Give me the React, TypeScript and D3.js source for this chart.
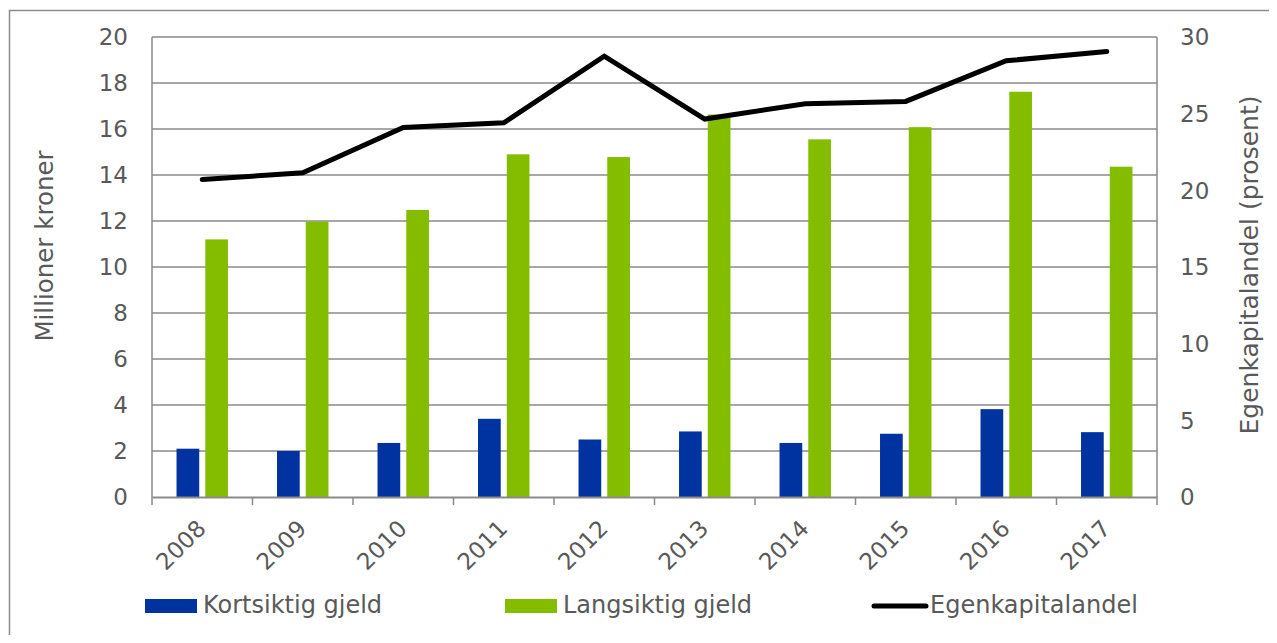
import React, { useEffect, useRef } from 'react';
import * as d3 from 'd3';

const years = ['2008', '2009', '2010', '2011', '2012', '2013', '2014', '2015', '2016', '2017'];
const kortsiktig = [2.1, 2.0, 2.35, 3.4, 2.5, 2.85, 2.35, 2.75, 3.82, 2.82];
const langsiktig = [11.2, 11.97, 12.48, 14.9, 14.78, 16.63, 15.55, 16.08, 17.62, 14.36];
const egenkapital = [20.7, 21.15, 24.1, 24.4, 28.75, 24.65, 25.65, 25.8, 28.45, 29.05];
const leftTicks = [0, 2, 4, 6, 8, 10, 12, 14, 16, 18, 20];
const rightTicks = [0, 5, 10, 15, 20, 25, 30];

const seriesNames = ['Kortsiktig gjeld', 'Langsiktig gjeld'];
const colors = ['#0033a0', '#84bc00'];

const W = 1277, H = 643;
const m = { left: 152, right: 1157, top: 37, bottom: 497 };
const font = 'DejaVu Sans, Verdana, sans-serif';
const textCol = '#595959';
const gridCol = '#8a8a8a';

const Chart = () => {
  const ref = useRef<SVGSVGElement>(null);

  useEffect(() => {
    const svg = d3.select(ref.current);
    svg.selectAll('*').remove();

    // outer frame, runs past the page on the right and bottom
    svg.append('rect')
      .attr('x', 9.5).attr('y', 10.5)
      .attr('width', W + 20).attr('height', H + 20)
      .attr('fill', 'none').attr('stroke', '#8c8c8c').attr('stroke-width', 1.5);

    const x0 = d3.scaleBand().domain(years).range([m.left, m.right]).padding(0);
    const bw = x0.bandwidth();
    const x1 = d3.scaleBand().domain(seriesNames).range([bw * 0.244, bw * 0.756]).paddingInner(0.21);
    const yL = d3.scaleLinear().domain([0, 20]).range([m.bottom, m.top]);
    const yR = d3.scaleLinear().domain([0, 30]).range([m.bottom, m.top]);

    // gridlines
    svg.append('g').selectAll('line').data(leftTicks.filter(t => t > 0)).enter()
      .append('line')
      .attr('x1', m.left).attr('x2', m.right)
      .attr('y1', d => yL(d)).attr('y2', d => yL(d))
      .attr('stroke', gridCol).attr('stroke-width', 1.5);

    // bars
    const data = [kortsiktig, langsiktig];
    data.forEach((vals, si) => {
      svg.append('g').selectAll('rect').data(vals).enter()
        .append('rect')
        .attr('x', (d, i) => (x0(years[i]) as number) + (x1(seriesNames[si]) as number))
        .attr('y', d => yL(d))
        .attr('width', x1.bandwidth())
        .attr('height', d => m.bottom - yL(d))
        .attr('fill', colors[si]);
    });

    // axis lines
    svg.append('line').attr('x1', m.left).attr('x2', m.left).attr('y1', m.top).attr('y2', m.bottom)
      .attr('stroke', gridCol).attr('stroke-width', 1.5);
    svg.append('line').attr('x1', m.right).attr('x2', m.right).attr('y1', m.top).attr('y2', m.bottom + 8)
      .attr('stroke', gridCol).attr('stroke-width', 1.5);

    const xAxis = d3.axisBottom(x0).tickSize(0).tickFormat(() => '');
    const gx = svg.append('g').attr('transform', `translate(0,${m.bottom})`).call(xAxis);
    gx.select('.domain').attr('stroke', gridCol).attr('stroke-width', 2);
    // ticks between the categories
    svg.append('g').selectAll('line').data(years).enter()
      .append('line')
      .attr('x1', d => x0(d) as number).attr('x2', d => x0(d) as number)
      .attr('y1', m.bottom).attr('y2', m.bottom + 8)
      .attr('stroke', gridCol).attr('stroke-width', 1.5);

    // x labels
    svg.append('g').selectAll('text').data(years).enter()
      .append('text')
      .attr('transform', d => `translate(${(x0(d) as number) + bw / 2 + 5},530) rotate(-45)`)
      .attr('text-anchor', 'end')
      .attr('font-family', font).attr('font-size', 23).attr('fill', textCol)
      .text(d => d);

    // left ticks
    svg.append('g').selectAll('text').data(leftTicks).enter()
      .append('text')
      .attr('x', 128).attr('y', d => yL(d))
      .attr('dy', '0.36em')
      .attr('text-anchor', 'end')
      .attr('font-family', font).attr('font-size', 23).attr('fill', textCol)
      .text(d => d);

    // right ticks
    svg.append('g').selectAll('text').data(rightTicks).enter()
      .append('text')
      .attr('x', 1180).attr('y', d => yR(d))
      .attr('dy', '0.36em')
      .attr('text-anchor', 'start')
      .attr('font-family', font).attr('font-size', 23).attr('fill', textCol)
      .text(d => d);

    // axis titles
    svg.append('text')
      .attr('transform', 'translate(53,246) rotate(-90)')
      .attr('text-anchor', 'middle')
      .attr('font-family', font).attr('font-size', 24.5).attr('fill', textCol)
      .text('Millioner kroner');
    svg.append('text')
      .attr('transform', 'translate(1258,265) rotate(-90)')
      .attr('text-anchor', 'middle')
      .attr('font-family', font).attr('font-size', 25).attr('fill', textCol)
      .text('Egenkapitalandel (prosent)');

    // line
    const line = d3.line<number>()
      .x((d, i) => (x0(years[i]) as number) + bw / 2)
      .y(d => yR(d));
    svg.append('path')
      .datum(egenkapital)
      .attr('d', line)
      .attr('fill', 'none')
      .attr('stroke', '#000')
      .attr('stroke-width', 5)
      .attr('stroke-linecap', 'round')
      .attr('stroke-linejoin', 'miter');

    // legend
    const lg = svg.append('g').attr('font-family', font).attr('font-size', 24).attr('fill', textCol);
    const legendX = [145, 505];
    seriesNames.forEach((name, i) => {
      lg.append('rect').attr('x', legendX[i]).attr('y', 599).attr('width', 52).attr('height', 14).attr('fill', colors[i]);
      lg.append('text').attr('x', legendX[i] + 58).attr('y', 613).text(name);
    });
    lg.append('line').attr('x1', 874).attr('x2', 926).attr('y1', 606).attr('y2', 606)
      .attr('stroke', '#000').attr('stroke-width', 5).attr('stroke-linecap', 'round');
    lg.append('text').attr('x', 930).attr('y', 613).text('Egenkapitalandel');
  }, []);

  return <svg ref={ref} width={W} height={H} style={{ display: 'block' }} />;
};

export default function App() {
  return (
    <div style={{ margin: -8, width: W, height: H, overflow: 'hidden', background: '#fff' }}>
      <Chart />
    </div>
  );
}
